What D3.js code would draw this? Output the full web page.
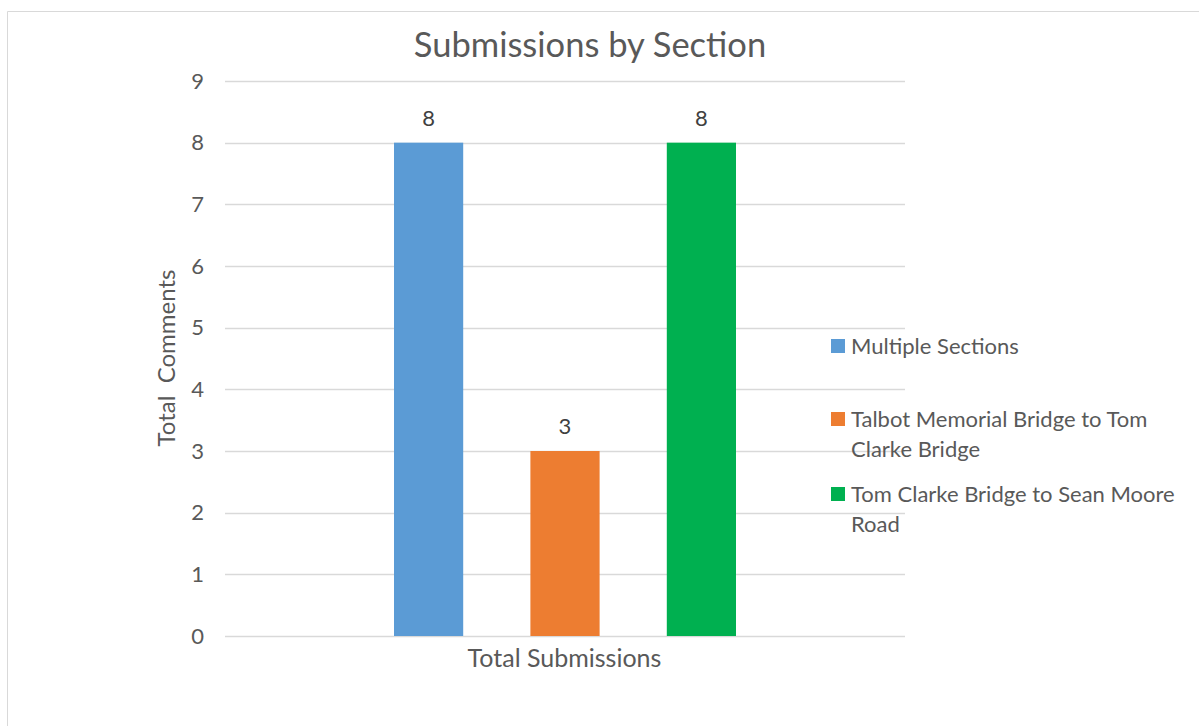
<!DOCTYPE html>
<html><head><meta charset="utf-8">
<script src="https://cdn.jsdelivr.net/npm/d3@7"></script>
<style>body{margin:0;background:#fff;} svg{display:block;font-family:Lato,"Open Sans",sans-serif;}</style>
</head><body>
<svg id="c" width="1199" height="726"></svg>
<script>
const series = ["Multiple Sections", "Talbot Memorial Bridge to Tom Clarke Bridge", "Tom Clarke Bridge to Sean Moore Road"];
const legendLines = [["Multiple Sections"], ["Talbot Memorial Bridge to Tom", "Clarke Bridge"], ["Tom Clarke Bridge to Sean Moore", "Road"]];
const values = [8, 3, 8];
const colors = ["#5B9BD5", "#ED7D31", "#00B050"];
const category = "Total Submissions";
const yTicks = [0,1,2,3,4,5,6,7,8,9];

const svg = d3.select("#c");
const txt = "#595959";
svg.append("line").attr("x1",7.5).attr("x2",1199).attr("y1",11.5).attr("y2",11.5).attr("stroke","#d9d9d9").attr("stroke-width",1);
svg.append("line").attr("x1",7.5).attr("x2",7.5).attr("y1",11.5).attr("y2",726).attr("stroke","#d9d9d9").attr("stroke-width",1);

const plot = {l:225, r:905, t:81, b:636};
const y = d3.scaleLinear().domain([0,9]).range([plot.b, plot.t]);
const x0 = d3.scaleBand().domain([category]).range([plot.l, plot.r]);
const x1 = d3.scaleBand().domain(series).range([394, 736]).paddingInner(67/136).paddingOuter(0);

svg.append("g").selectAll("line").data(yTicks).join("line")
  .attr("x1",plot.l).attr("x2",plot.r)
  .attr("y1",d=>Math.round(y(d))+0.5).attr("y2",d=>Math.round(y(d))+0.5)
  .attr("stroke","#d9d9d9").attr("stroke-width",1.5);

const yAxis = d3.axisLeft(y).tickValues(yTicks).tickSize(0).tickPadding(0);
const ga = svg.append("g").attr("transform",`translate(204,0)`).call(yAxis);
ga.select(".domain").remove();
ga.selectAll("text").attr("fill",txt).style("font-size","22px").style("font-family","Lato,'Open Sans',sans-serif");

svg.append("g").selectAll("rect").data(values).join("rect")
  .attr("x",(d,i)=>x1(series[i])).attr("width",x1.bandwidth())
  .attr("y",d=>y(d)).attr("height",d=>y(0)-y(d))
  .attr("fill",(d,i)=>colors[i]);

svg.append("g").selectAll("text").data(values).join("text")
  .attr("x",(d,i)=>x1(series[i])+x1.bandwidth()/2).attr("y",d=>y(d)-17)
  .attr("text-anchor","middle").attr("fill","#404040").style("font-size","22px").text(d=>d);

svg.append("text").attr("x",x0(category)+x0.bandwidth()/2-0.5).attr("y",667).attr("text-anchor","middle")
  .attr("fill",txt).style("font-size","25px").text(category);

svg.append("text").attr("x",590).attr("y",57).attr("text-anchor","middle").attr("fill",txt)
  .style("font-size","34.5px").text("Submissions by Section");

svg.append("text").attr("transform","translate(175,358) rotate(-90)").attr("text-anchor","middle")
  .attr("fill",txt).style("font-size","24px").attr("xml:space","preserve").text("Total  Comments");

const legY = [346, 419, 494];
const lg = svg.append("g");
legendLines.forEach((lines,i)=>{
  lg.append("rect").attr("x",831).attr("y",legY[i]-7).attr("width",14).attr("height",14).attr("fill",colors[i]);
  const t = lg.append("text").attr("x",851).attr("y",legY[i]+8).attr("fill",txt).style("font-size","22px");
  lines.forEach((ln,j)=>t.append("tspan").attr("x",851).attr("dy",j?29.5:0).text(ln));
});
</script>
</body></html>
